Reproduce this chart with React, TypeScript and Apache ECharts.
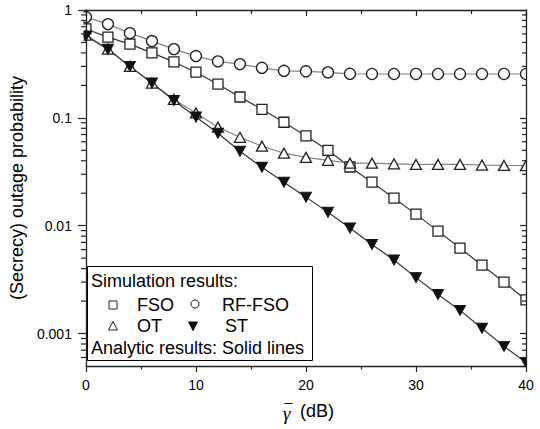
import React, { useEffect, useRef } from 'react';
import * as echarts from 'echarts';

// Average SNR (dB) at which simulation markers are placed
const snrDb = [0, 2, 4, 6, 8, 10, 12, 14, 16, 18, 20, 22, 24, 26, 28, 30, 32, 34, 36, 38, 40];

// (Secrecy) outage probability
const fsoValues = [0.667, 0.56, 0.483, 0.40, 0.33, 0.265, 0.205, 0.156, 0.12, 0.091, 0.068, 0.050, 0.035, 0.0253, 0.018, 0.0128, 0.0089, 0.0062, 0.0043, 0.003, 0.00205];
const rfFsoValues = [0.86, 0.74, 0.61, 0.515, 0.434, 0.374, 0.334, 0.315, 0.291, 0.273, 0.27, 0.264, 0.256, 0.255, 0.255, 0.255, 0.255, 0.255, 0.255, 0.255, 0.255];
const otValues = [0.585, 0.434, 0.30, 0.21, 0.148, 0.111, 0.082, 0.066, 0.0546, 0.047, 0.043, 0.0404, 0.038, 0.038, 0.0375, 0.037, 0.037, 0.037, 0.0365, 0.0362, 0.036];
const stValues = [0.575, 0.432, 0.30, 0.21, 0.145, 0.1016, 0.072, 0.049, 0.0348, 0.0253, 0.0184, 0.0133, 0.0095, 0.0067, 0.0048, 0.0033, 0.0023, 0.00164, 0.00112, 0.00076, 0.00054];

const xTickLabels = ['0', '10', '20', '30', '40'];
const yTickLabels = ['1', '0.1', '0.01', '0.001'];
const yMinorTicks = [
  0.0006, 0.0007, 0.0008, 0.0009,
  0.002, 0.003, 0.004, 0.005, 0.006, 0.007, 0.008, 0.009,
  0.02, 0.03, 0.04, 0.05, 0.06, 0.07, 0.08, 0.09,
  0.2, 0.3, 0.4, 0.5, 0.6, 0.7, 0.8, 0.9,
];

const legendTitle = 'Simulation results:';
const legendFoot = 'Analytic results: Solid lines';
const seriesNames = ['FSO', 'RF-FSO', 'OT', 'ST'];
const yAxisTitle = '(Secrecy) outage probability';
const xAxisSymbol = '\u03B3';
const xAxisUnit = '(dB)';

const xMin = 0;
const xMax = 40;
const yMin = 0.0005;
const yMax = 1;

const FONT = '"Liberation Sans", Arial, sans-serif';
const AXIS = '#222';

function pairs(values: number[]) {
  return snrDb.map((x, i) => [x, values[i]]);
}

export default function App() {
  const ref = useRef<HTMLDivElement>(null);

  useEffect(() => {
    if (!ref.current) return;
    const chart = echarts.init(ref.current, undefined, { renderer: 'svg' });

    const fmtY = (v: number) => {
      const s = String(Number(v.toPrecision(3)));
      return yTickLabels.includes(s) ? s : '';
    };
    const fmtX = (v: number) => {
      const s = String(v);
      return xTickLabels.includes(s) ? s : '';
    };

    const markerStyle = { color: '#fff', borderColor: '#222', borderWidth: 1.3 };
    const darkLine = { color: '#333', width: 1.2 };
    const greyLine = { color: '#8f807d', width: 1.2 };

    const legendEls: any[] = [
      { type: 'rect', shape: { x: 87.5, y: 266.5, width: 225, height: 94 }, style: { fill: '#fff', stroke: '#000', lineWidth: 1 }, z: 20 },
      { type: 'text', x: 91, y: 281, style: { text: legendTitle, font: `18px ${FONT}`, fill: '#000', verticalAlign: 'middle' }, z: 21 },
      { type: 'rect', shape: { x: 109, y: 301, width: 8, height: 8 }, style: { fill: '#fff', stroke: '#222', lineWidth: 1 }, z: 21 },
      { type: 'text', x: 137, y: 305, style: { text: seriesNames[0], font: `18px ${FONT}`, fill: '#000', verticalAlign: 'middle' }, z: 21 },
      { type: 'circle', shape: { cx: 195, cy: 304, r: 4 }, style: { fill: '#fff', stroke: '#222', lineWidth: 1 }, z: 21 },
      { type: 'text', x: 222, y: 305, style: { text: seriesNames[1], font: `18px ${FONT}`, fill: '#000', verticalAlign: 'middle' }, z: 21 },
      { type: 'polygon', shape: { points: [[113, 321.5], [108.5, 330], [117.5, 330]] }, style: { fill: '#fff', stroke: '#222', lineWidth: 1 }, z: 21 },
      { type: 'text', x: 137, y: 326, style: { text: seriesNames[2], font: `18px ${FONT}`, fill: '#000', verticalAlign: 'middle' }, z: 21 },
      { type: 'polygon', shape: { points: [[188.5, 322], [197.5, 322], [193, 330.5]] }, style: { fill: '#111', stroke: '#111', lineWidth: 1 }, z: 21 },
      { type: 'text', x: 225, y: 326, style: { text: seriesNames[3], font: `18px ${FONT}`, fill: '#000', verticalAlign: 'middle' }, z: 21 },
      { type: 'text', x: 91, y: 348, style: { text: legendFoot, font: `18px ${FONT}`, fill: '#000', verticalAlign: 'middle' }, z: 21 },
    ];

    // x-axis title: italic gamma with an overbar, then the unit
    const xTitleEls: any[] = [
      { type: 'text', x: 283, y: 413, style: { text: xAxisSymbol, font: `italic 19px "Liberation Serif", serif`, fill: '#000', verticalAlign: 'middle' }, z: 21 },
      { type: 'line', shape: { x1: 284.5, y1: 403.5, x2: 292.5, y2: 403.5 }, style: { stroke: '#000', lineWidth: 1 }, z: 21 },
      { type: 'text', x: 300, y: 411, style: { text: xAxisUnit, font: `18px ${FONT}`, fill: '#000', verticalAlign: 'middle' }, z: 21 },
    ];

    // white masks outside the plot so edge markers appear clipped
    const masks: any[] = [
      { type: 'rect', shape: { x: 0, y: 0, width: 83.4, height: 429 }, style: { fill: '#fff' }, z: 5, silent: true },
      { type: 'rect', shape: { x: 526.6, y: 0, width: 14, height: 429 }, style: { fill: '#fff' }, z: 5, silent: true },
      { type: 'rect', shape: { x: 0, y: 366.6, width: 540, height: 63 }, style: { fill: '#fff' }, z: 5, silent: true },
    ];

    const baseX = {
      type: 'value',
      min: xMin,
      max: xMax,
      interval: 10,
      splitLine: { show: false },
      minorSplitLine: { show: false },
      axisLine: { show: true, onZero: false, lineStyle: { color: AXIS, width: 1.3 } },
      z: 10,
    };
    const baseY = {
      type: 'log',
      logBase: 10,
      min: yMin,
      max: yMax,
      splitLine: { show: false },
      axisLine: { show: true, onZero: false, lineStyle: { color: AXIS, width: 1.3 } },
      z: 10,
    };

    const option: any = {
      animation: false,
      backgroundColor: '#fff',
      grid: { left: 84, right: 14, top: 10, bottom: 63, containLabel: false },
      xAxis: [
        {
          ...baseX,
          position: 'bottom',
          axisTick: { show: true, inside: false, length: 6, lineStyle: { color: AXIS, width: 1.2 } },
          minorTick: { show: true, splitNumber: 2, length: 3.5, lineStyle: { color: AXIS, width: 1.2 } },
          axisLabel: { show: true, formatter: fmtX, fontSize: 14, color: '#000', fontFamily: FONT, margin: 12 },
        },
        {
          ...baseX,
          position: 'top',
          axisTick: { show: true, inside: true, length: 6, lineStyle: { color: AXIS, width: 1.2 } },
          minorTick: { show: true, splitNumber: 2, length: 4, lineStyle: { color: AXIS, width: 1.2 } },
          axisLabel: { show: false },
        },
      ],
      yAxis: [
        {
          ...baseY,
          position: 'left',
          axisTick: { show: true, inside: false, length: 8, lineStyle: { color: AXIS, width: 1.2 } },
          axisLabel: { show: true, showMinLabel: false, formatter: fmtY, fontSize: 14, color: '#000', fontFamily: FONT, margin: 14 },
          name: yAxisTitle,
          nameLocation: 'middle',
          nameGap: 54,
          nameTextStyle: { fontSize: 18, fontFamily: FONT, color: '#000' },
        },
        {
          ...baseY,
          position: 'right',
          axisTick: { show: true, inside: true, length: 6, lineStyle: { color: AXIS, width: 1.2 } },
          axisLabel: { show: false },
        },
      ],
      graphic: { elements: [...masks, ...legendEls, ...xTitleEls] },
      series: [
        { name: seriesNames[1], type: 'line', data: pairs(rfFsoValues), symbol: 'circle', symbolSize: 11, itemStyle: markerStyle, lineStyle: greyLine, clip: false, z: 2 },
        { name: seriesNames[0], type: 'line', data: pairs(fsoValues), symbol: 'rect', symbolSize: 10, itemStyle: markerStyle, lineStyle: darkLine, clip: false, z: 2 },
        { name: seriesNames[2], type: 'line', data: pairs(otValues), symbol: 'triangle', symbolSize: [11, 10], itemStyle: markerStyle, lineStyle: greyLine, clip: false, z: 2 },
        { name: seriesNames[3], type: 'line', data: pairs(stValues), symbol: 'triangle', symbolRotate: 180, symbolSize: [11, 10], itemStyle: { color: '#111', borderColor: '#111', borderWidth: 1 }, lineStyle: darkLine, clip: false, z: 2 },
        // log-spaced minor ticks: left frame outward, right frame inward
        {
          type: 'custom',
          silent: true,
          clip: false,
          z: 12,
          data: yMinorTicks.map((v) => [xMin, v]),
          encode: { x: 0, y: 1 },
          renderItem: (_p: any, api: any) => {
            const v = api.value(1);
            const pl = api.coord([xMin, v]);
            const pr = api.coord([xMax, v]);
            return {
              type: 'group',
              children: [
                { type: 'rect', shape: { x: pl[0] - 5, y: pl[1] - 0.6, width: 5, height: 1.2 }, style: { fill: AXIS } },
                { type: 'rect', shape: { x: pr[0] - 4, y: pr[1] - 0.6, width: 4, height: 1.2 }, style: { fill: AXIS } },
              ],
            };
          },
        },
      ],
    };

    chart.setOption(option);
    return () => chart.dispose();
  }, []);

  return (
    <div
      ref={ref}
      style={{ position: 'fixed', left: 0, top: 0, width: 540, height: 429, background: '#fff' }}
    />
  );
}
